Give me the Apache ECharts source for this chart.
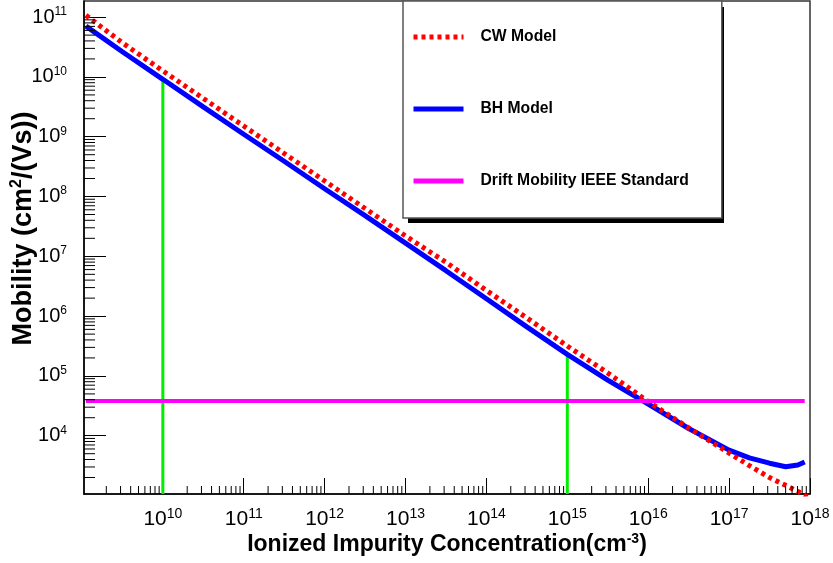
<!DOCTYPE html>
<html>
<head>
<meta charset="utf-8">
<script src="https://cdn.jsdelivr.net/npm/echarts@6/dist/echarts.min.js"></script>
<style>
html, body { margin: 0; padding: 0; background: #fff; }
#chart { width: 833px; height: 563px; }
</style>
</head>
<body>
<div id="chart"></div>
<script>
// BH model
const bhConc = [1.12e9, 3.16e9, 1e10, 3.16e10, 1e11, 3.16e11, 1e12, 3.16e12, 1e13, 3.16e13, 1e14, 3.16e14,
  1e15, 3.16e15, 1e16, 3.16e16, 1e17, 1.78e17, 3.16e17, 5.01e17, 7.08e17, 8.6e17]
const bhMobility = [7.08e10, 2.63e10, 9.12e9, 3.16e9, 1.10e9, 3.89e8, 1.35e8, 4.79e7, 1.66e7, 5.75e6, 1.95e6, 6.61e5,
  2.29e5, 8.51e4, 3.39e4, 1.32e4, 5.75e3, 4.27e3, 3.47e3, 3.02e3, 3.24e3, 3.63e3]

// CW model
const cwConc = [1.12e9, 3.16e9, 1e10, 3.16e10, 1e11, 3.16e11, 1e12, 3.16e12, 1e13, 3.16e13, 1e14, 3.16e14,
  1e15, 3.16e15, 1e16, 3.16e16, 1e17, 1.78e17, 3.16e17, 5.01e17, 7.08e17, 9.33e17]
const cwMobility = [1.07e11, 3.72e10, 1.26e10, 4.37e9, 1.51e9, 5.25e8, 1.82e8, 6.31e7, 2.19e7, 7.94e6, 2.69e6, 9.33e5,
  3.16e5, 1.12e5, 3.72e4, 1.35e4, 5.13e3, 3.16e3, 2.0e3, 1.48e3, 1.17e3, 9.55e2]

// IEEE standard drift mobility (flat)
const driftConc = [1.12e9, 8.6e17]
const driftMobility = [3.8e4, 3.8e4]

// green marker lines
const markerConc = [1e10, 1e15]
const markerTop = [9.1e9, 2.3e5]

const xRange = [1.06e9, 1e18]
const yRange = [1.06e3, 1.86e11]

const seriesNames = ['CW Model', 'BH Model', 'Drift Mobility IEEE Standard']
const seriesColors = ['#ff0000', '#0000ff', '#ff00ff']

const FONT = 'Liberation Sans, Arial, sans-serif'

function minorTicks(range) {
  const out = []
  const lo = Math.floor(Math.log10(range[0]))
  const hi = Math.ceil(Math.log10(range[1]))
  for (let n = lo; n < hi; n++) {
    for (let k = 2; k <= 9; k++) {
      const v = k * Math.pow(10, n)
      if (v > range[0] && v < range[1]) out.push(v)
    }
  }
  return out
}

function tickSeries(data, dir, len) {
  return {
    type: 'custom',
    silent: true,
    clip: false,
    z: 5,
    data,
    renderItem(params, api) {
      const p = api.coord([api.value(0), api.value(1)])
      const shape = dir === 'x'
        ? { x1: p[0], y1: p[1], x2: p[0], y2: p[1] - len }
        : { x1: p[0], y1: p[1], x2: p[0] + len, y2: p[1] }
      return { type: 'line', shape, style: { stroke: '#000', lineWidth: 1 } }
    }
  }
}

function powLabel(v) {
  const n = Math.round(Math.log10(v))
  return '{b|10}{s|' + n + '}'
}

function labelRich(size, supSize) {
  return {
    b: { fontSize: size, fontFamily: FONT, color: '#000', lineHeight: size + 3 },
    s: { fontSize: supSize, fontFamily: FONT, color: '#000', verticalAlign: 'top', lineHeight: supSize }
  }
}

function titleRich(size, supSize) {
  return {
    t: { fontSize: size, fontWeight: 'bold', fontFamily: FONT, color: '#000', lineHeight: size + 3 },
    s: { fontSize: supSize, fontWeight: 'bold', fontFamily: FONT, color: '#000', verticalAlign: 'top', lineHeight: supSize }
  }
}

const chart = echarts.init(document.getElementById('chart'), null, { renderer: 'canvas' })

chart.setOption({
  backgroundColor: '#fff',
  animation: false,
  grid: {
    left: 84, right: 23, top: 1, bottom: 69,
    show: true, borderColor: '#333', borderWidth: 1.5,
    outerBoundsMode: 'none'
  },
  // drop shadow of the legend box
  graphic: [{
    type: 'rect',
    z: 3,
    shape: { x: 408, y: 7, width: 316, height: 216 },
    style: { fill: '#000' }
  }],
  legend: {
    data: seriesNames.map((n, i) => ({
      name: n,
      itemStyle: { color: 'rgba(0,0,0,0)', borderWidth: 0 },
      lineStyle: { color: seriesColors[i], width: 5, type: i === 0 ? [4, 4] : 'solid' }
    })),
    orient: 'vertical',
    left: 403,
    top: 1,
    z: 6,
    padding: [27, 33, 28, 8],
    itemGap: 54,
    itemWidth: 50,
    itemHeight: 14,
    backgroundColor: '#fff',
    borderColor: '#555',
    borderWidth: 1.5,
    borderRadius: 0,
    textStyle: {
      fontFamily: FONT, fontWeight: 'bold', fontSize: 15.7, color: '#000',
      lineHeight: 18, padding: [0, 0, 0, 12]
    }
  },
  xAxis: {
    type: 'log',
    logBase: 10,
    min: xRange[0],
    max: xRange[1],
    name: '{t|Ionized Impurity Concentration(cm}{s|-3}{t|)}',
    nameLocation: 'middle',
    nameGap: 38,
    nameMoveOverlap: false,
    nameTextStyle: { rich: titleRich(23, 14) },
    axisLine: { lineStyle: { color: '#000', width: 1.5 } },
    axisTick: { inside: true, length: 16, lineStyle: { color: '#000' } },
    minorTick: { show: false },
    splitLine: { show: false },
    axisLabel: {
      margin: 13,
      showMinLabel: false,
      formatter: powLabel,
      rich: labelRich(21, 14)
    }
  },
  yAxis: {
    type: 'log',
    logBase: 10,
    min: yRange[0],
    max: yRange[1],
    name: '{t|Mobility (cm}{s|2}{t|/(Vs))}',
    nameLocation: 'middle',
    nameGap: 45,
    nameRotate: 90,
    nameMoveOverlap: false,
    nameTextStyle: { rich: titleRich(27, 16), padding: [0, 0, 0, 38] },
    axisLine: { lineStyle: { color: '#000', width: 1.5 } },
    axisTick: { inside: true, length: 22, lineStyle: { color: '#000' } },
    minorTick: { show: false },
    splitLine: { show: false },
    axisLabel: {
      margin: 17,
      showMinLabel: false,
      showMaxLabel: false,
      formatter: powLabel,
      rich: labelRich(20, 12)
    }
  },
  series: [
    tickSeries(minorTicks(xRange).map(v => [v, yRange[0]]), 'x', 8),
    tickSeries(minorTicks(yRange).map(v => [xRange[0], v]), 'y', 11),
    ...markerConc.map((c, i) => ({
      name: 'marker' + i,
      type: 'line',
      data: [[c, yRange[0]], [c, markerTop[i]]],
      symbol: 'none',
      z: 2,
      lineStyle: { color: '#00ee00', width: 3 }
    })),
    {
      name: 'BH Model',
      type: 'line',
      data: bhConc.map((c, i) => [c, bhMobility[i]]),
      symbol: 'none',
      z: 3,
      itemStyle: { color: '#0000ff' },
      lineStyle: { color: '#0000ff', width: 5 }
    },
    {
      name: 'CW Model',
      type: 'line',
      data: cwConc.map((c, i) => [c, cwMobility[i]]),
      symbol: 'none',
      z: 4,
      itemStyle: { color: '#ff0000' },
      lineStyle: { color: '#ff0000', width: 5, type: [4, 4] }
    },
    {
      name: 'Drift Mobility IEEE Standard',
      type: 'line',
      data: driftConc.map((c, i) => [c, driftMobility[i]]),
      symbol: 'none',
      z: 4,
      itemStyle: { color: '#ff00ff' },
      lineStyle: { color: '#ff00ff', width: 4 }
    }
  ]
})
</script>
</body>
</html>
